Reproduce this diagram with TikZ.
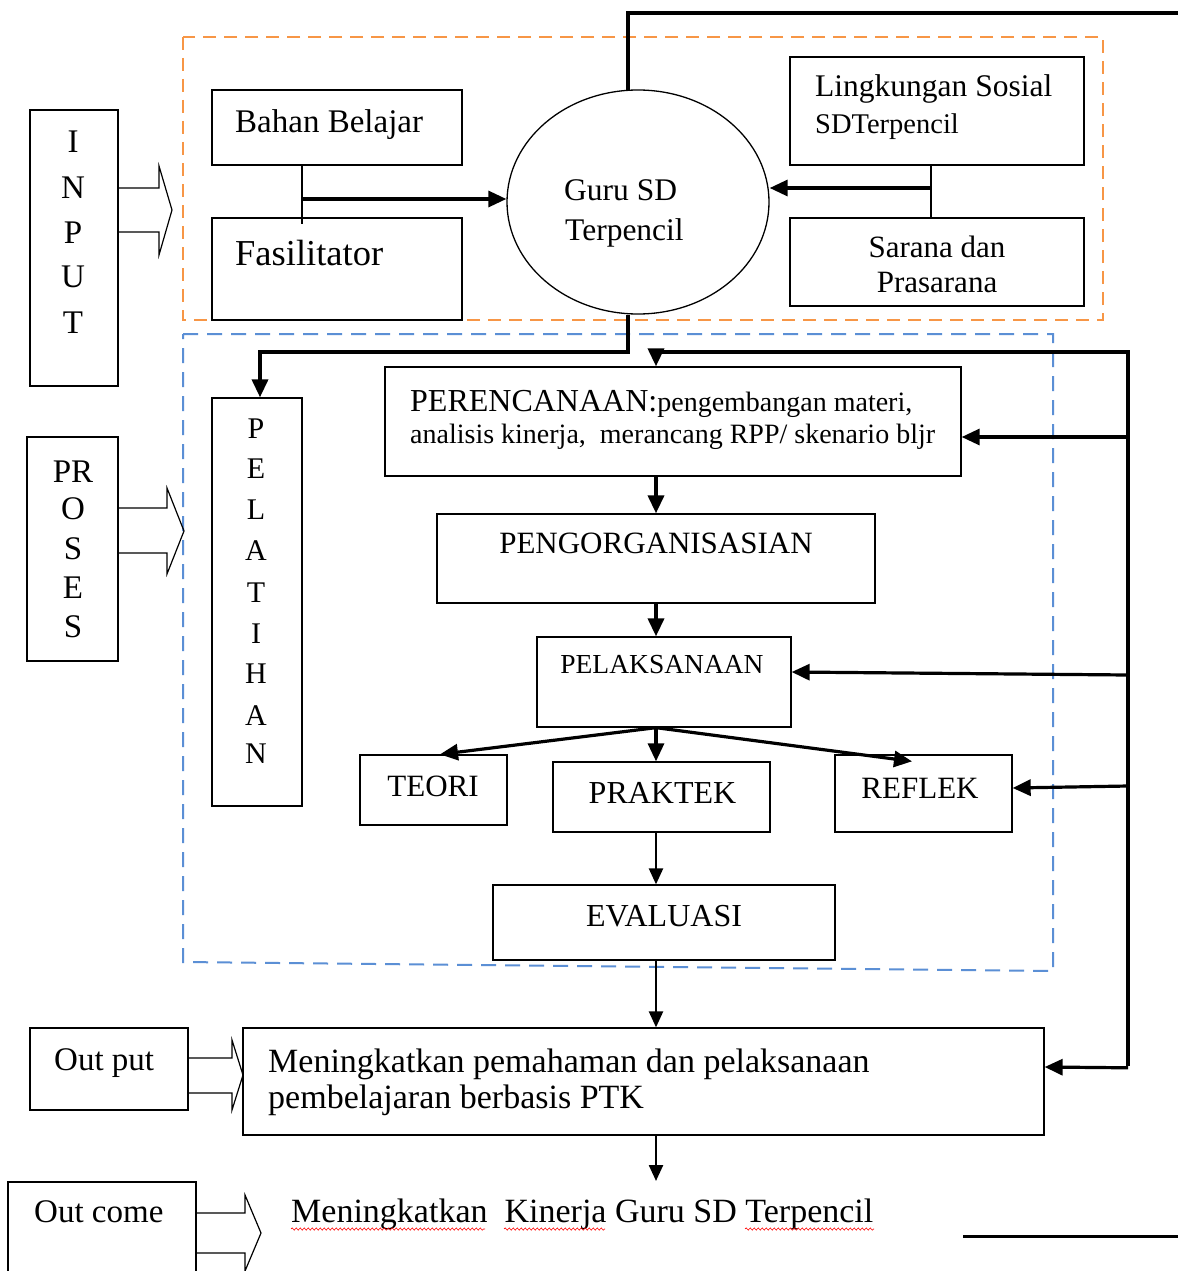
\documentclass[tikz,border=0pt]{standalone}
\usepackage{fontspec}
\setmainfont{Liberation Serif}
\usetikzlibrary{arrows.meta,shapes.geometric,decorations.pathmorphing}
\newcommand\fsz[1]{\fontsize{#1pt}{#1pt}\selectfont}
\definecolor{dashorange}{RGB}{247,150,70}
\definecolor{dashblue}{RGB}{91,143,213}
\begin{document}
\begin{tikzpicture}[x=1pt,y=-1pt,
  box/.style={draw,line width=1.3pt,inner sep=0pt,rectangle},
  txt/.style={inner sep=0pt,anchor=base west},
  ctxt/.style={inner sep=0pt,anchor=base},
  heavy/.style={line width=3.6pt},
  medium/.style={line width=2.4pt},
  tip/.style={-{Triangle[length=18pt,width=16pt]}},
  stip/.style={-{Triangle[length=16pt,width=14pt]}},
  blockarrow/.style={draw,line width=1.2pt,line join=miter},
  spell/.style={draw=red,line width=0.6pt,decorate,decoration={snake,amplitude=1.1pt,segment length=4pt}},
]
\useasboundingbox[fill=white] (0,0) rectangle (1178,1271);

% dashed regions
\draw[dashorange,line width=2pt,dash pattern=on 13pt off 8pt] (183,37) rectangle (1103,320);
\draw[dashblue,line width=2pt,dash pattern=on 15pt off 9pt] (183,334) -- (1053,334) -- (1053,971) -- (183,962) -- cycle;

% boxes
\node[box,minimum width=88pt,minimum height=276pt] (input) at (74,248) {};
\node[box,minimum width=250pt,minimum height=75pt] (bahan) at (337,127.5) {};
\node[box,minimum width=250pt,minimum height=102pt] (fasil) at (337,269) {};
\node[box,minimum width=294pt,minimum height=108pt] (lingk) at (937,111) {};
\node[box,minimum width=294pt,minimum height=88pt] (sarana) at (937,262) {};
\node[draw,line width=1.3pt,ellipse,inner sep=0pt,minimum width=262pt,minimum height=224pt,fill=white] (guru) at (638,202) {};
\node[box,minimum width=90pt,minimum height=408pt] (pelat) at (257,602) {};
\node[box,minimum width=91pt,minimum height=224pt] (proses) at (72.5,549) {};
\node[box,minimum width=576pt,minimum height=109pt] (peren) at (673,421.5) {};
\node[box,minimum width=438pt,minimum height=89pt] (pengorg) at (656,558.5) {};
\node[box,minimum width=254pt,minimum height=90pt] (pelak) at (664,682) {};
\node[box,minimum width=147pt,minimum height=70pt] (teori) at (433.5,790) {};
\node[box,minimum width=217pt,minimum height=70pt] (praktek) at (661.5,797) {};
\node[box,minimum width=177pt,minimum height=77pt] (reflek) at (923.5,793.5) {};
\node[box,minimum width=342pt,minimum height=75pt] (eval) at (664,922.5) {};
\node[box,minimum width=801pt,minimum height=107pt] (mening) at (643.5,1081.5) {};
\node[box,minimum width=158pt,minimum height=82pt] (output) at (109,1069) {};
\node[box,minimum width=188pt,minimum height=120pt] (outcome) at (102,1242) {};

% texts
\node[ctxt] (tI) at (73,153) {\fsz{33}I};
\node[ctxt] (tN) at (73,198) {\fsz{33}N};
\node[ctxt] (tP) at (73,243) {\fsz{33}P};
\node[ctxt] (tU) at (73,287) {\fsz{33}U};
\node[ctxt] (tT) at (73,333) {\fsz{33}T};

\node[txt] (tbahan) at (235,132) {\fsz{33}Bahan Belajar};
\node[txt] (tfasil) at (235,265) {\fsz{36.5}Fasilitator};
\node[txt] (tguru1) at (564,200) {\fsz{31.5}Guru SD};
\node[txt] (tguru2) at (565,240) {\fsz{31.5}Terpencil};
\node[txt] (tling1) at (815,97) {\fsz{31.5}Lingkungan Sosial};
\node[txt] (tling2) at (815,133) {\fsz{28.5}SDTerpencil};
\node[ctxt] (tsar1) at (937,257) {\fsz{31}Sarana dan};
\node[ctxt] (tsar2) at (937,292) {\fsz{31}Prasarana};

\node[ctxt] (pr1) at (73,482) {\fsz{33}PR};
\node[ctxt] (pr2) at (73,519) {\fsz{33}O};
\node[ctxt] (pr3) at (73,559) {\fsz{33}S};
\node[ctxt] (pr4) at (73,598) {\fsz{33}E};
\node[ctxt] (pr5) at (73,637) {\fsz{33}S};

\node[ctxt] (pl1) at (256,438) {\fsz{30}P};
\node[ctxt] (pl2) at (256,478) {\fsz{30}E};
\node[ctxt] (pl3) at (256,519) {\fsz{30}L};
\node[ctxt] (pl4) at (256,560) {\fsz{30}A};
\node[ctxt] (pl5) at (256,602) {\fsz{30}T};
\node[ctxt] (pl6) at (256,643) {\fsz{30}I};
\node[ctxt] (pl7) at (256,683) {\fsz{30}H};
\node[ctxt] (pl8) at (256,725) {\fsz{30}A};
\node[ctxt] (pl9) at (256,763) {\fsz{30}N};

\node[txt] (tper1) at (410,411) {\fsz{32}PERENCANAAN:\fsz{28}pengembangan materi,};
\node[txt] (tper2) at (410,443) {\fsz{28}analisis kinerja,\ \ merancang RPP/ skenario bljr};
\node[ctxt] (tpeng) at (656,553) {\fsz{31}PENGORGANISASIAN};
\node[ctxt] (tpelak) at (662,673) {\fsz{27.5}PELAKSANAAN};
\node[ctxt] (tteori) at (433,796) {\fsz{31}TEORI};
\node[ctxt] (tprak) at (662.5,803) {\fsz{32}PRAKTEK};
\node[ctxt] (trefl) at (920,798) {\fsz{31}REFLEK};
\node[ctxt] (teval) at (664,926) {\fsz{32}EVALUASI};
\node[txt] (tmen1) at (268,1072) {\fsz{34}Meningkatkan pemahaman dan pelaksanaan};
\node[txt] (tmen2) at (268,1108) {\fsz{34}pembelajaran berbasis PTK};
\node[txt] (tout) at (54,1070) {\fsz{33}Out put};
\node[txt] (tcome) at (34,1222) {\fsz{33}Out come};
\node[txt] (tfinal) at (291,1222) {\fsz{34}Meningkatkan\ \ Kinerja Guru SD Terpencil};

% spelling underlines
\draw[spell] (291,1229) -- (485,1229);
\draw[spell] (504,1229) -- (605,1229);
\draw[spell] (745,1229) -- (874,1229);

% block arrows
\draw[blockarrow] (input.east |- {(0,188)}) -- (159,188) -- (159,166) -- (172,210) -- (159,255) -- (159,232) -- (input.east |- {(0,232)});
\draw[blockarrow] (proses.east |- {(0,508)}) -- (167,508) -- (167,488) -- (184,531) -- (167,574) -- (167,553) -- (proses.east |- {(0,553)});
\draw[blockarrow] (output.east |- {(0,1058)}) -- (232,1058) -- (232,1040) -- (243,1075) -- (232,1110) -- (232,1093) -- (output.east |- {(0,1093)});
\draw[blockarrow] (outcome.east |- {(0,1213)}) -- (245,1213) -- (245,1195) -- (261,1233) -- (245,1271) -- (245,1253) -- (outcome.east |- {(0,1253)});

% coordinates
\coordinate (jl) at (302,199);
\coordinate (jr) at (931,188);
\coordinate (ax) at (656,0);
\coordinate (hl) at (0,352);
\coordinate (topR) at (1178,13);
\coordinate (fbT) at (1128,352);
\coordinate (fbB) at (1128,1066);
\coordinate (b1) at (1128,437);
\coordinate (b2) at (1128,675);
\coordinate (b3) at (1128,786);
\coordinate (oc) at (656,1181);
\coordinate (lineL) at (963,1236);
\coordinate (lineR) at (1178,1236);

% top connectors
\draw[line width=2.6pt] (bahan.south -| jl) -- ([yshift=-7pt]fasil.north -| jl);
\draw[line width=3.2pt,tip] (jl) -- (jl -| guru.west);
\draw[line width=2.6pt] (lingk.south -| jr) -- ([yshift=-2pt]sarana.north -| jr);
\draw[line width=3.2pt,tip] (jr) -- (jr -| guru.east);
\draw[heavy] ([xshift=-10pt,yshift=-1pt]guru.north) |- (topR);
\draw[heavy,tip,line join=miter] ([xshift=-10pt]guru.south) -- ([xshift=-10pt]guru.south |- hl) -- (hl -| {(260,0)}) -- (pelat.north -| {(260,0)});

% feedback loop
\draw[heavy] (fbT) -- (fbB);
\draw[heavy,tip,line join=miter] ([xshift=1.8pt]fbT) -- (fbT -| ax) -- (peren.north -| ax);
\draw[line width=3.2pt,tip] (b1) -- (b1 -| peren.east);
\draw[line width=3.2pt,tip] (b2) -- ([yshift=10pt]pelak.east);
\draw[line width=3.2pt,tip] (b3) -- ([yshift=5.5pt]reflek.east);
\draw[line width=3.2pt,tip] ([yshift=-1.8pt]fbB) -- ([yshift=14.5pt]mening.east);

% main chain
\draw[heavy,tip] (peren.south -| ax) -- (pengorg.north -| ax);
\draw[heavy,tip] (pengorg.south -| ax) -- (pelak.north -| ax);
\draw[line width=3.2pt,tip] (pelak.south -| ax) -- ([xshift=6.5pt]teori.north);
\draw[line width=3.2pt,tip] (pelak.south -| ax) -- (praktek.north -| ax);
\draw[line width=3.2pt,tip] (pelak.south -| ax) -- ([xshift=-11.5pt,yshift=-7pt]reflek.north);
\draw[medium,stip] (praktek.south -| ax) -- (eval.north -| ax);
\draw[medium,stip] (eval.south -| ax) -- (mening.north -| ax);
\draw[medium,stip] (mening.south -| ax) -- (oc);

% bottom right line
\draw[line width=3pt] (lineL) -- (lineR);
\end{tikzpicture}
\end{document}
